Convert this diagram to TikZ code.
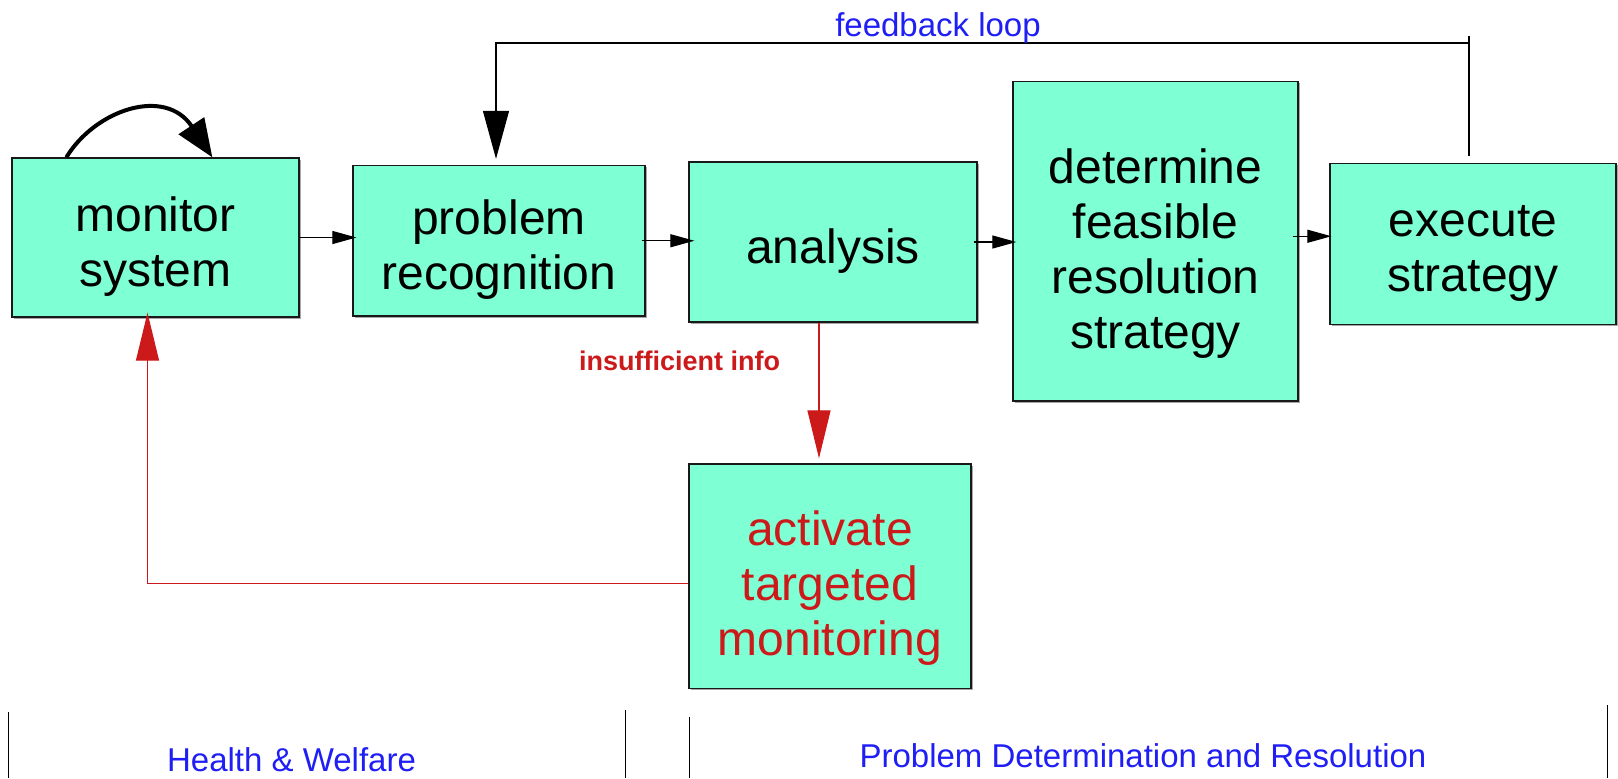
\documentclass[tikz,border=0pt]{standalone}
\usepackage{fontspec}
\setmainfont{Liberation Sans}
\usetikzlibrary{arrows.meta,calc}

\definecolor{boxfill}{RGB}{127,255,212}
\definecolor{alertred}{RGB}{204,26,26}
\definecolor{noteblue}{RGB}{30,30,245}

\begin{document}
\begin{tikzpicture}[
  x=0.5pt, y=-0.5pt,
  stagebox/.style={draw=black!90, line width=0.65pt, fill=boxfill, inner sep=0pt},
  stagetext/.style={align=center, inner sep=0pt, font=\fontsize{24}{27.5}\selectfont},
  flow/.style={line width=0.6pt, -{Triangle[length=12pt,width=6.5pt]}},
  bigflow/.style={line width=0.6pt, -{Triangle[length=24pt,width=13pt]}},
  redflow/.style={alertred, line width=0.6pt, -{Triangle[length=24pt,width=11.5pt]}},
  selfloop/.style={line width=2pt, -{Triangle[length=19pt,width=15pt]}},
  note/.style={noteblue, inner sep=0pt, anchor=base, font=\fontsize{16.5}{20}\selectfont},
  divider/.style={line width=0.5pt, black}
]
\useasboundingbox (0,0) rectangle (1618,778);

% process stages: faint shadow, then box, then label
\foreach \nm/\cx/\cy/\w/\h in {mon/155.5/237.5/287/159, prob/499/240.75/292/150.5,
    ana/833/242/288/160, det/1155.5/241.25/285/319.5, exe/1473/244/286/161,
    act/830/576.25/282/224.5} {
  \fill[black!35] (\cx-\w/2+1.5,\cy-\h/2+1.5) rectangle (\cx+\w/2+1.5,\cy+\h/2+1.5);
  \node[stagebox, minimum width=\w*0.5pt, minimum height=\h*0.5pt] (\nm) at (\cx,\cy) {};
}
\node[stagetext] (mon-t)  at ($(mon)+(0,9)$)  {monitor\\system};
\node[stagetext] (prob-t) at ($(prob)+(0,9)$) {problem\\recognition};
\node[stagetext] (ana-t)  at ($(ana)+(0,9)$)  {analysis};
\node[stagetext] (det-t)  at ($(det)+(0,12)$) {determine\\feasible\\resolution\\strategy};
\node[stagetext] (exe-t)  at ($(exe)+(0,9)$)  {execute\\strategy};
\node[stagetext, text=alertred] (act-t) at ($(act)+(0,12)$) {activate\\targeted\\monitoring};

% main flow
\draw[flow] (mon.east) -- ($(mon.east -| prob.west)+(4,0)$);
\draw[flow] ($(prob.east)+(-4,0)$) -- ($(prob.east -| ana.west)+(6,0)$);
\draw[flow] ($(ana.east)+(-4,0)$) -- ($(ana.east -| det.west)+(4,0)$);
\draw[flow] ($(det.east)+(-6,-5)$) -- ($(det.east -| exe.west)+(2,-5)$);

% monitoring repeats on its own
\draw[selfloop] ($(mon.north west)+(55,0)$) .. controls (95,110) and (165,86) .. ($(mon.north west)+(201,0)$);

% feedback loop from execution back to recognition
\coordinate (fbtop) at (1469,36);
\coordinate (fbright) at (1469,43);
\coordinate (fbleft) at (496,43);
\draw[line width=0.6pt] ($(exe.north)+(-4,-7)$) -- (fbtop);
\draw[bigflow] (fbright) -- (fbleft) -- ($(prob.north)+(-3,-6)$);
\node[note] (fb-lbl) at (938,36) {feedback loop};

% insufficient information branch
\draw[redflow] ($(ana.south)+(-14,0)$) -- ($(act.north)+(-11,-5)$);
\node[alertred, inner sep=0pt, anchor=base, font=\fontsize{13.5}{16}\selectfont\bfseries] (info-lbl) at (679.5,370) {insufficient info};
\draw[redflow] ($(act.west)+(0,7)$) -| ($(mon.south)+(-8,-5)$);

% phase dividers and captions
\coordinate (d1a) at (8,712);    \coordinate (d1b) at (8,778);
\coordinate (d2a) at (625,710);  \coordinate (d2b) at (625,778);
\coordinate (d3a) at (689,717);  \coordinate (d3b) at (689,778);
\coordinate (d4a) at (1607,705); \coordinate (d4b) at (1607,778);
\draw[divider] (d1a) -- (d1b);
\draw[divider] (d2a) -- (d2b);
\draw[divider] (d3a) -- (d3b);
\draw[divider] (d4a) -- (d4b);
\node[note] (hw-lbl) at (291.5,771) {Health \& Welfare};
\node[note] (pd-lbl) at (1143,767) {Problem Determination and Resolution};
\end{tikzpicture}
\end{document}
